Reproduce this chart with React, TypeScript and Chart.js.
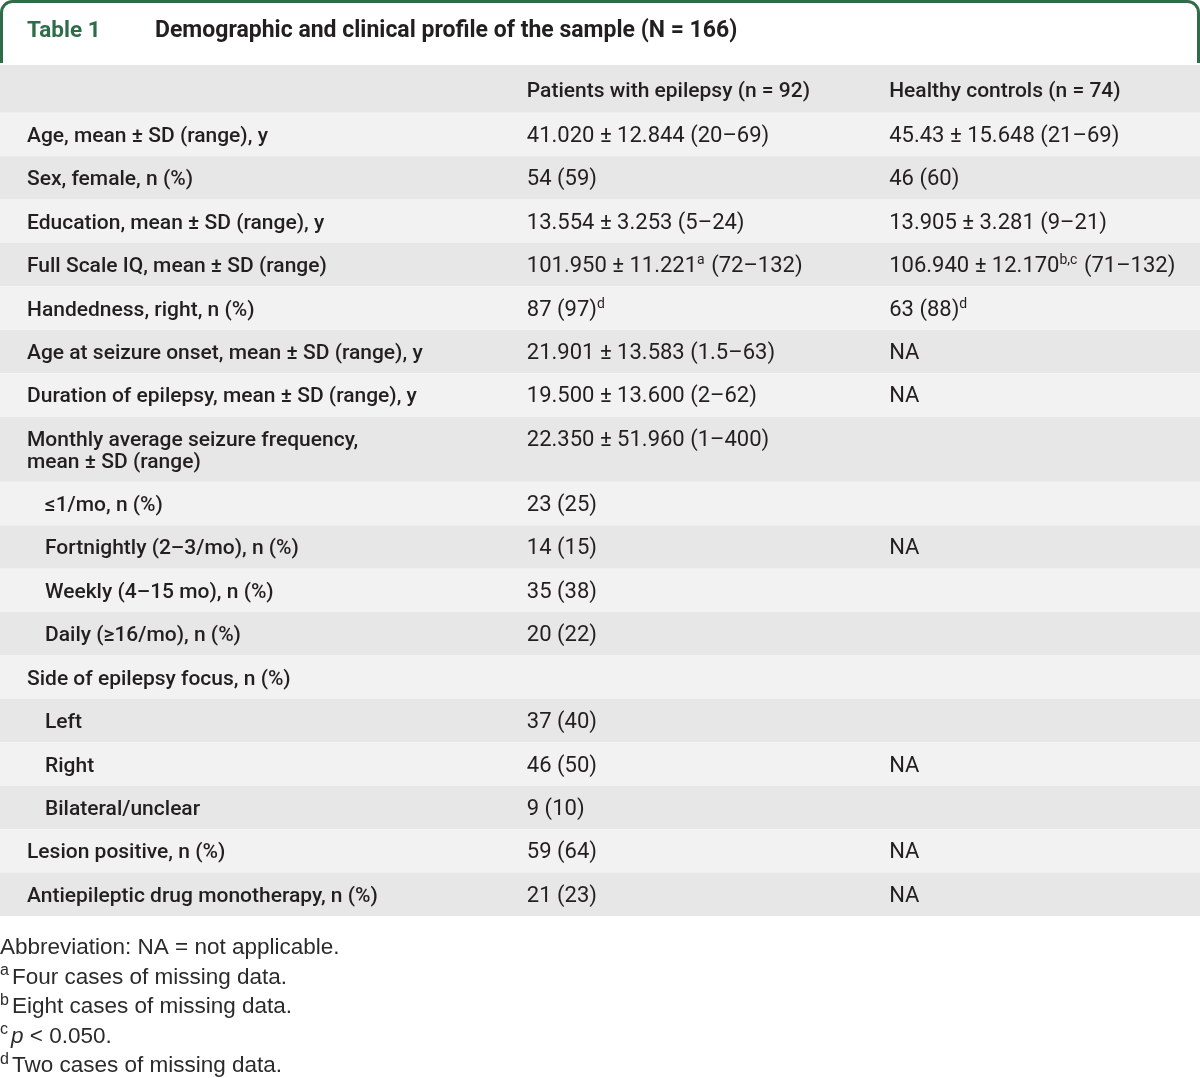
import React, { useEffect, useRef } from "react";
import { Chart, registerables } from "chart.js";

Chart.register(...registerables);

// ---------------- data ----------------
const tableNumber = "Table 1";
const tableTitle = "Demographic and clinical profile of the sample (N = 166)";
const columnHeaders = ["", "Patients with epilepsy (n = 92)", "Healthy controls (n = 74)"];

const rowLabels: (string | string[])[] = [
  "Age, mean ± SD (range), y",
  "Sex, female, n (%)",
  "Education, mean ± SD (range), y",
  "Full Scale IQ, mean ± SD (range)",
  "Handedness, right, n (%)",
  "Age at seizure onset, mean ± SD (range), y",
  "Duration of epilepsy, mean ± SD (range), y",
  ["Monthly average seizure frequency,", "mean ± SD (range)"],
  "≤1/mo, n (%)",
  "Fortnightly (2–3/mo), n (%)",
  "Weekly (4–15 mo), n (%)",
  "Daily (≥16/mo), n (%)",
  "Side of epilepsy focus, n (%)",
  "Left",
  "Right",
  "Bilateral/unclear",
  "Lesion positive, n (%)",
  "Antiepileptic drug monotherapy, n (%)",
];

// hierarchy level of each row (0 = main item, 1 = sub-item)
const rowLevels = [0, 0, 0, 0, 0, 0, 0, 0, 1, 1, 1, 1, 0, 1, 1, 1, 0, 0];

const epilepsyValues = [
  "41.020 ± 12.844 (20–69)",
  "54 (59)",
  "13.554 ± 3.253 (5–24)",
  "101.950 ± 11.221^{a} (72–132)",
  "87 (97)^{d}",
  "21.901 ± 13.583 (1.5–63)",
  "19.500 ± 13.600 (2–62)",
  "22.350 ± 51.960 (1–400)",
  "23 (25)",
  "14 (15)",
  "35 (38)",
  "20 (22)",
  "",
  "37 (40)",
  "46 (50)",
  "9 (10)",
  "59 (64)",
  "21 (23)",
];

const controlValues = [
  "45.43 ± 15.648 (21–69)",
  "46 (60)",
  "13.905 ± 3.281 (9–21)",
  "106.940 ± 12.170^{b,c} (71–132)",
  "63 (88)^{d}",
  "NA",
  "NA",
  "",
  "",
  "NA",
  "",
  "",
  "",
  "",
  "NA",
  "",
  "NA",
  "NA",
];

const footnotes = [
  "Abbreviation: NA = not applicable.",
  "^{a}Four cases of missing data.",
  "^{b}Eight cases of missing data.",
  "^{c}*p* < 0.050.",
  "^{d}Two cases of missing data.",
];

// ---------------- layout / style ----------------
const W = 1200;
const H = 1078;
const TABLE_TOP = 65;
const TABLE_BOTTOM = 916;
const HEADER_SPAN = 1.1;
const COLUMN_STARTS = [2.25, 43.9, 74.1]; // percent of width on the x scale
const INDENT = 1.5;
const GREEN = "#2f6d4a";
const TEXT = "#231f20";
const ROW_LIGHT = "#f2f2f2";
const ROW_DARK = "#e6e7e6";

// row geometry in y-scale units
const rowSpans = rowLabels.map((l) => (Array.isArray(l) ? 1 + 0.5 * (l.length - 1) : 1));
const rowStarts: number[] = [];
{
  let acc = HEADER_SPAN;
  rowSpans.forEach((s) => {
    rowStarts.push(acc);
    acc += s;
  });
}
const TOTAL_UNITS = HEADER_SPAN + rowSpans.reduce((a, b) => a + b, 0);

type Seg = { text: string; sup?: boolean; italic?: boolean };
function parseRich(s: string): Seg[] {
  const parts = s.split(/(\^\{[^}]*\}|\*[^*]+\*)/).filter((p) => p !== "");
  return parts.map((p) => {
    if (p.startsWith("^{")) return { text: p.slice(2, -1), sup: true };
    if (p.startsWith("*") && p.endsWith("*") && p.length > 2) return { text: p.slice(1, -1), italic: true };
    return { text: p };
  });
}

function drawRich(
  ctx: CanvasRenderingContext2D,
  s: string,
  x: number,
  baseline: number,
  size: number,
  family: string,
  weight: number,
  color: string,
  supScale = 0.62,
  supGap = 1
) {
  let cx = x;
  ctx.fillStyle = color;
  ctx.textBaseline = "alphabetic";
  ctx.textAlign = "left";
  for (const seg of parseRich(s)) {
    if (seg.sup) {
      const ss = Math.round(size * supScale);
      ctx.font = `${weight} ${ss}px ${family}`;
      ctx.fillText(seg.text, cx, baseline - size * 0.36);
      cx += ctx.measureText(seg.text).width + supGap;
    } else {
      ctx.font = `${seg.italic ? "italic " : ""}${weight} ${size}px ${family}`;
      ctx.fillText(seg.text, cx, baseline);
      cx += ctx.measureText(seg.text).width;
    }
  }
}

const tablePlugin = {
  id: "tableDraw",
  beforeDraw(chart: any) {
    const { ctx, scales } = chart;
    const x = scales.x;
    const y = scales.y;
    ctx.save();
    ctx.fillStyle = "#ffffff";
    ctx.fillRect(0, 0, W, H);

    // title frame
    ctx.strokeStyle = GREEN;
    ctx.lineWidth = 3;
    const r = 11;
    const l = 1.5;
    const rt = W - 1.5;
    const t = 1.5;
    const b = y.getPixelForValue(0) - 2;
    ctx.beginPath();
    ctx.moveTo(l, b);
    ctx.lineTo(l, t + r);
    ctx.arcTo(l, t, l + r, t, r);
    ctx.lineTo(rt - r, t);
    ctx.arcTo(rt, t, rt, t + r, r);
    ctx.lineTo(rt, b);
    ctx.stroke();

    const titleBase = 37;
    ctx.textBaseline = "alphabetic";
    ctx.textAlign = "left";
    ctx.fillStyle = GREEN;
    ctx.font = "700 22.5px Roboto";
    ctx.fillText(tableNumber, x.getPixelForValue(COLUMN_STARTS[0]), titleBase);
    ctx.fillStyle = TEXT;
    ctx.font = "700 23px Roboto";
    ctx.fillText(tableTitle, 155, titleBase);

    const x0 = x.left;
    const x1 = x.right;

    // header row
    const hTop = y.getPixelForValue(0);
    const hBot = y.getPixelForValue(HEADER_SPAN);
    ctx.fillStyle = ROW_DARK;
    ctx.fillRect(x0, hTop, x1 - x0, hBot - hTop);
    const hMid = (hTop + hBot) / 2;
    columnHeaders.forEach((h, i) => {
      if (!h) return;
      drawRich(ctx, h, x.getPixelForValue(COLUMN_STARTS[i]), hMid + 8, 21, "Roboto", 500, TEXT);
    });

    // body rows
    rowLabels.forEach((label, i) => {
      const top = y.getPixelForValue(rowStarts[i]);
      const bot = y.getPixelForValue(rowStarts[i] + rowSpans[i]);
      ctx.fillStyle = i % 2 === 0 ? ROW_LIGHT : ROW_DARK;
      ctx.fillRect(x0, top, x1 - x0, bot - top);
      const lines = Array.isArray(label) ? label : [label];
      const mid = (top + bot) / 2;
      const lineGap = 22.5;
      const firstBase = mid + 7.5 - ((lines.length - 1) * lineGap) / 2;
      const lx = x.getPixelForValue(COLUMN_STARTS[0] + rowLevels[i] * INDENT);
      lines.forEach((ln, k) => {
        drawRich(ctx, ln, lx, firstBase + k * lineGap, 21, "Roboto", 500, TEXT);
      });
      const ev = epilepsyValues[i];
      const cv = controlValues[i];
      if (ev) drawRich(ctx, ev, x.getPixelForValue(COLUMN_STARTS[1]), firstBase, 22, "Roboto", 400, TEXT);
      if (cv) drawRich(ctx, cv, x.getPixelForValue(COLUMN_STARTS[2]), firstBase, 22, "Roboto", 400, TEXT);
    });

    // footnotes
    const fnStart = y.getPixelForValue(TOTAL_UNITS) + 38;
    footnotes.forEach((f, i) => {
      drawRich(ctx, f, 0, fnStart + i * 29.5, 22.5, '"Liberation Sans"', 400, "#2b2b2b", 0.72, 3);
    });
    ctx.restore();
  },
};

export default function App() {
  const ref = useRef<HTMLCanvasElement | null>(null);
  useEffect(() => {
    document.body.style.margin = "0";
    const canvas = ref.current;
    if (!canvas) return;
    const chart = new Chart(canvas, {
      type: "scatter",
      data: { datasets: [{ data: [], pointRadius: 0 }] },
      options: {
        responsive: false,
        animation: false,
        devicePixelRatio: 1,
        layout: { padding: { top: TABLE_TOP, bottom: H - TABLE_BOTTOM, left: 0, right: 0 } },
        scales: {
          x: { type: "linear", display: false, min: 0, max: 100 },
          y: { type: "linear", display: false, min: 0, max: TOTAL_UNITS, reverse: true },
        },
        plugins: { legend: { display: false }, tooltip: { enabled: false } },
      },
      plugins: [tablePlugin],
    });
    return () => chart.destroy();
  }, []);
  return <canvas ref={ref} width={W} height={H} style={{ display: "block" }} />;
}
